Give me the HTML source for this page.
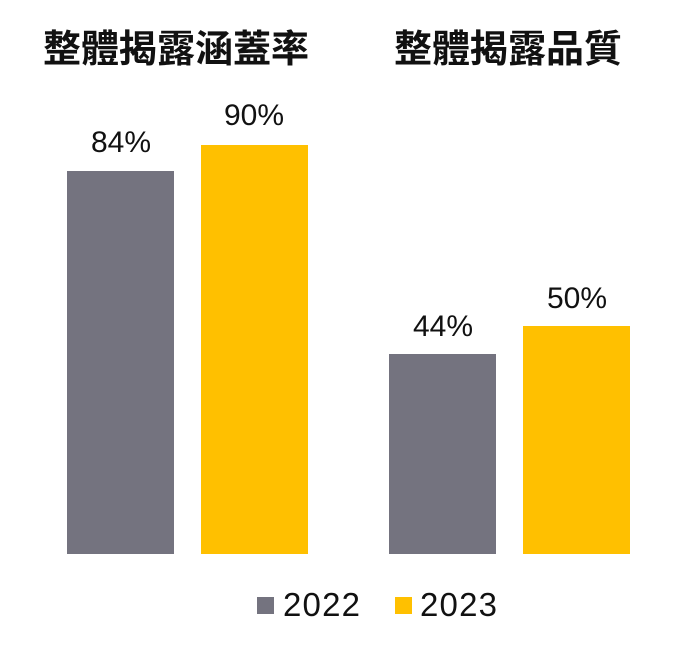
<!DOCTYPE html>
<html><head><meta charset="utf-8"><style>
html,body{margin:0;padding:0;background:#fff;}
svg{display:block}
</style></head><body>
<svg width="674" height="654" viewBox="0 0 674 654" xmlns="http://www.w3.org/2000/svg">
<g font-family="'Liberation Sans','Noto Sans CJK TC',sans-serif" fill="#111">
<text x="176" y="62" font-size="38" font-weight="bold" text-anchor="middle" font-family="'Noto Sans CJK TC',sans-serif">整體揭露涵蓋率</text>
<text x="508" y="62" font-size="38" font-weight="bold" text-anchor="middle" font-family="'Noto Sans CJK TC',sans-serif">整體揭露品質</text>
</g>
<rect x="67" y="171" width="107" height="383" fill="#74737f"/>
<rect x="201" y="145" width="107" height="409" fill="#ffc000"/>
<rect x="389" y="354" width="107" height="200" fill="#74737f"/>
<rect x="523" y="326" width="107" height="228" fill="#ffc000"/>
<g font-family="'Liberation Sans',sans-serif" font-size="30" fill="#111" text-anchor="middle">
<text x="121" y="152">84%</text>
<text x="254" y="125">90%</text>
<text x="443" y="336">44%</text>
<text x="577" y="308">50%</text>
</g>
<rect x="257" y="597" width="17" height="17" fill="#74737f"/>
<rect x="395" y="597" width="17" height="17" fill="#ffc000"/>
<g font-family="'Liberation Sans',sans-serif" font-size="33" fill="#111">
<text x="283" y="616" textLength="77">2022</text>
<text x="420" y="616" textLength="77">2023</text>
</g>
</svg>
</body></html>
